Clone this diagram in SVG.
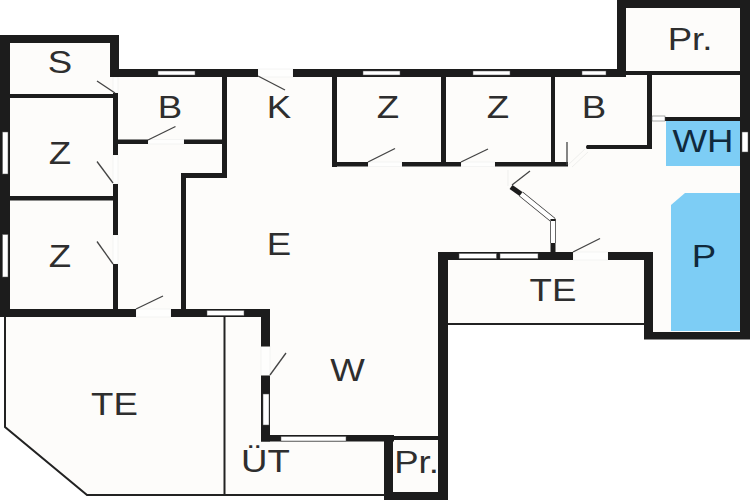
<svg xmlns="http://www.w3.org/2000/svg" width="750" height="500" viewBox="0 0 750 500">
<style>
.floor{fill:#fdfcfa}
.wall{fill:#1c1c1c}
.win{fill:#fff;stroke:#555;stroke-width:.5}
.gap{fill:#fefefd;stroke:#efefed;stroke-width:.6}
.leaf{fill:none;stroke:#444;stroke-width:1.3}
.thin{fill:none;stroke:#222;stroke-width:2}
.pool{fill:#7dcdf5}
text{font-family:"Liberation Sans",Arial,sans-serif;font-size:30.500px;fill:#2e2e2e;text-anchor:middle}
text.blue{fill:#10293c}
</style>
<rect width="750" height="500" fill="#fff"/>
<path class="floor" d="M0 35H119V69H617V0H750V339H644V325H448V500H384V495H87L5 427V316H0Z"/>
<g id="pools">
<rect class="pool" x="666" y="121" width="74" height="45"/>
<path class="pool" d="M685 193H740V331H671V205Z"/>
</g>
<g id="door-gaps">
<rect class="gap" x="113" y="77" width="5" height="16"/>
<rect class="gap" x="113" y="155" width="5" height="29"/>
<rect class="gap" x="113" y="235" width="5" height="29"/>
<rect class="gap" x="148" y="139.500" width="36" height="4.500"/>
<rect class="gap" x="136" y="309" width="35" height="8"/>
<rect class="gap" x="258" y="69" width="35" height="8"/>
<rect class="gap" x="368" y="162" width="34" height="4.500"/>
<rect class="gap" x="461" y="162" width="34" height="4.500"/>
<rect class="gap" x="261" y="346.500" width="9" height="29"/>
<rect class="gap" x="573" y="252" width="35" height="8"/>
<path d="M568 165L585 149M572 167L588 152M508 170V186" fill="none" stroke="#efefed"/>
</g>
<g id="walls">
<rect class="wall" x="0" y="35" width="10" height="282"/>
<rect class="wall" x="0" y="35" width="119" height="8"/>
<rect class="wall" x="110" y="35" width="9" height="42"/>
<rect class="wall" x="110" y="69" width="148" height="8"/>
<rect class="wall" x="293" y="69" width="333" height="8"/>
<rect class="wall" x="617" y="0" width="9" height="77"/>
<rect class="wall" x="617" y="0" width="133" height="8"/>
<rect class="wall" x="740" y="0" width="10" height="339"/>
<rect class="wall" x="626" y="71" width="114" height="4"/>
<rect class="wall" x="647" y="75" width="5" height="74"/>
<path class="wall" d="M587 145H652V149H587A2.500 2.500 0 0 1 587 145Z"/>
<rect class="wall" x="665" y="117" width="75" height="4"/>
<rect class="wall" x="644" y="332" width="106" height="7.500"/>
<rect class="wall" x="644" y="252" width="9" height="87"/>
<rect class="wall" x="608" y="252" width="45" height="8"/>
<rect class="wall" x="438" y="252" width="135" height="8"/>
<rect class="wall" x="438" y="252" width="10" height="248"/>
<rect class="wall" x="332" y="77" width="5" height="90"/>
<rect class="wall" x="332" y="162" width="36" height="4.500"/>
<rect class="wall" x="402" y="162" width="59" height="4.500"/>
<rect class="wall" x="495" y="162" width="73" height="4.500"/>
<rect class="wall" x="441" y="77" width="5" height="86"/>
<rect class="wall" x="551" y="77" width="4" height="86"/>
<rect class="wall" x="113" y="93" width="5" height="62"/>
<rect class="wall" x="10" y="94" width="103" height="4"/>
<rect class="wall" x="118" y="139.500" width="30" height="4.500"/>
<rect class="wall" x="184" y="139.500" width="38" height="4.500"/>
<rect class="wall" x="222" y="77" width="5" height="101"/>
<rect class="wall" x="181" y="173" width="46" height="5"/>
<rect class="wall" x="181" y="173" width="5" height="138"/>
<rect class="wall" x="113" y="184" width="5" height="51"/>
<rect class="wall" x="113" y="264" width="5" height="46"/>
<rect class="wall" x="10" y="196" width="103" height="4.500"/>
<rect class="wall" x="0" y="309" width="136" height="8"/>
<rect class="wall" x="171" y="309" width="99" height="8"/>
<rect class="wall" x="261" y="309" width="9" height="37.500"/>
<rect class="wall" x="261" y="375.500" width="9" height="66"/>
<rect class="wall" x="261" y="435" width="133" height="6.500"/>
<rect class="wall" x="384" y="435" width="9" height="65"/>
<rect class="wall" x="393" y="436" width="45" height="4"/>
<rect class="wall" x="384" y="492" width="64" height="8"/>
</g>
<g id="thin-lines">
<path class="thin" d="M5 317V427L87 495H385"/>
<path class="thin" d="M224.500 317V495"/>
<path class="thin" d="M448 324H644"/>
</g>
<g id="partition">
<path d="M521 194L553 220V243" fill="none" stroke="#333" stroke-width="6" stroke-linejoin="bevel"/>
<path d="M521 194L553 220V243" fill="none" stroke="#fff" stroke-width="4.500" stroke-linejoin="bevel"/>
<path d="M511 187L521 194" stroke="#1c1c1c" stroke-width="5" fill="none"/>
<rect class="wall" x="550.500" y="243" width="5" height="9"/>
<rect class="wall" x="550.500" y="219" width="5" height="2"/>
</g>
<g id="windows">
<rect class="win" x="158" y="71" width="37" height="4"/>
<rect class="win" x="363" y="71" width="37" height="4"/>
<rect class="win" x="473" y="71" width="37" height="4"/>
<rect class="win" x="582" y="71" width="24" height="4"/>
<rect class="win" x="652" y="116" width="13" height="5"/>
<rect class="win" x="742" y="132" width="6" height="20"/>
<rect class="win" x="2.500" y="132" width="5.500" height="42"/>
<rect class="win" x="2.500" y="234.500" width="5.500" height="42.500"/>
<rect class="win" x="459" y="253.500" width="37.500" height="5"/>
<rect class="win" x="500" y="253.500" width="38" height="5"/>
<rect class="win" x="207" y="310.500" width="37" height="5"/>
<rect class="win" x="263" y="394" width="6" height="31"/>
<rect class="win" x="281" y="436.500" width="65" height="4.500"/>
</g>
<g id="door-leaves">
<path class="leaf" d="M115 93L97 81"/>
<path class="leaf" d="M113 183L97 161.500"/>
<path class="leaf" d="M113 264L97 241.500"/>
<path class="leaf" d="M148 140L175.500 126.500"/>
<path class="leaf" d="M136 309L163 296"/>
<path class="leaf" d="M258 76L285 90"/>
<path class="leaf" d="M368 162L395 148.500"/>
<path class="leaf" d="M461 162L488 149"/>
<path class="leaf" d="M567 165V142"/>
<path class="leaf" d="M512 185L530 171"/>
<path class="leaf" d="M573 252L600 238.500"/>
<path class="leaf" d="M270 375L286 353"/>
</g>
<g id="labels">
<text transform="translate(60 73) scale(1.2 1)">S</text>
<text transform="translate(170 118) scale(1.2 1)">B</text>
<text transform="translate(60 164) scale(1.2 1)">Z</text>
<text transform="translate(60 267) scale(1.2 1)">Z</text>
<text transform="translate(279 118) scale(1.2 1)">K</text>
<text transform="translate(388 118) scale(1.2 1)">Z</text>
<text transform="translate(498 118) scale(1.2 1)">Z</text>
<text transform="translate(594 118) scale(1.2 1)">B</text>
<text transform="translate(690 50) scale(1.2 1)">Pr.</text>
<text class="blue" transform="translate(703 152) scale(1.2 1)">WH</text>
<text transform="translate(279 255) scale(1.2 1)">E</text>
<text transform="translate(553 300.500) scale(1.2 1)">TE</text>
<text class="blue" transform="translate(704 266.500) scale(1.2 1)">P</text>
<text transform="translate(114.500 415) scale(1.2 1)">TE</text>
<text transform="translate(347.500 381) scale(1.2 1)">W</text>
<text transform="translate(265.500 472) scale(1.2 1)">ÜT</text>
<text transform="translate(416.500 472.500) scale(1.2 1)">Pr.</text>
</g>
</svg>
